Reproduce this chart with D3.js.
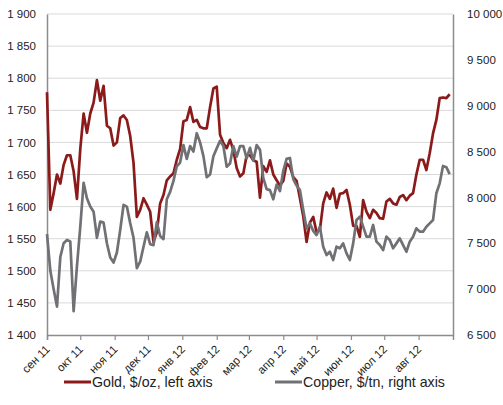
<!DOCTYPE html>
<html><head><meta charset="utf-8">
<script src="https://cdn.jsdelivr.net/npm/d3@7"></script>
<style>
html,body{margin:0;padding:0;background:#fff;}
svg{display:block;font-family:"Liberation Sans",Arial,sans-serif;}
</style></head>
<body><svg id="c" width="503" height="405"></svg>
<script>
// ---- data (one value every 3 days from 1 Sep 2011) ----
const startDate = "2011-09-01";
const stepDays = 3;
const gold = [1778,1595,1621,1650,1636,1665,1680,1680,1655,1612,1690,1745,1715,1745,1762,1797,1765,1788,1726,1722,
  1695,1700,1738,1742,1735,1710,1668,1584,1595,1613,1603,1592,1545,1560,1605,1618,1641,1647,1652,1673,
  1690,1733,1735,1755,1732,1735,1724,1722,1722,1755,1784,1787,1712,1699,1691,1704,1688,1660,1647,1652,
  1680,1680,1672,1670,1614,1663,1654,1672,1650,1641,1633,1640,1667,1662,1646,1640,1613,1585,1545,1575,
  1584,1560,1564,1605,1622,1612,1628,1598,1620,1621,1626,1603,1570,1570,1553,1610,1592,1582,1595,1590,
  1582,1581,1608,1612,1605,1603,1615,1618,1610,1617,1621,1650,1673,1673,1657,1683,1714,1735,1769,1770,
  1769,1775];
const copper = [7600,7200,7000,6810,7350,7500,7536,7520,6760,7250,7680,8160,7990,7900,7845,7560,7736,7725,7500,7345,
  7290,7400,7645,7918,7900,7720,7560,7230,7300,7463,7620,7490,7480,7730,7580,7545,7980,8060,8180,8340,
  8380,8571,8420,8560,8500,8700,8600,8450,8220,8250,8450,8535,8617,8560,8335,8370,8560,8444,8560,8560,
  8426,8540,8400,8570,8520,8210,8090,8080,7980,8140,8070,8290,8420,8430,8200,8130,8080,7863,7660,7717,
  7635,7590,7681,7463,7372,7408,7318,7463,7445,7499,7390,7318,7499,7754,7790,7681,7572,7572,7700,7518,
  7481,7426,7572,7536,7445,7499,7554,7481,7408,7518,7572,7663,7627,7627,7681,7717,7754,8045,8154,8343,
  8330,8255];
const monthLabels = ["сен 11","окт 11","ноя 11","дек 11","янв 12","фев 12","мар 12","апр 12","май 12","июн 12","июл 12","авг 12"];
const goldTicks = [1400,1450,1500,1550,1600,1650,1700,1750,1800,1850,1900];
const copperTicks = [6500,7000,7500,8000,8500,9000,9500,10000];
const seriesNames = ["Gold, $/oz, left axis","Copper, $/tn, right axis"];
const colors = ["#8b1a1a","#717175"];

// ---- chart ----
const svg = d3.select("#c");
const L = 47, R = 453, T = 14, B = 335;
const parse = d3.timeParse("%Y-%m-%d");
const t0 = parse(startDate);
const dates = gold.map((_, i) => d3.timeDay.offset(t0, i * stepDays));
const months = d3.timeMonth.range(t0, d3.timeMonth.offset(t0, 12));
const x = d3.scaleTime().domain([t0, d3.timeMonth.offset(t0, 12)]).range([L, R]);
const yG = d3.scaleLinear().domain([goldTicks[0], goldTicks[goldTicks.length-1]]).range([B, T]);
const yC = d3.scaleLinear().domain([copperTicks[0], copperTicks[copperTicks.length-1]]).range([B, T]);
const loc = d3.formatLocale({decimal: ",", thousands: " ", grouping: [3], currency: ["", ""]});
const fmt = loc.format(",d");

// gridlines
svg.append("g").selectAll("line").data(goldTicks.slice(1)).join("line")
  .attr("x1", L).attr("x2", R).attr("y1", d => yG(d)).attr("y2", d => yG(d))
  .attr("stroke", "#d9d9d9").attr("stroke-width", 1);

// left axis
const gl = svg.append("g").attr("transform", `translate(${L},0)`)
  .call(d3.axisLeft(yG).tickValues(goldTicks).tickSize(0).tickPadding(11).tickFormat(fmt));
gl.select(".domain").attr("stroke", "#8c8c8c").attr("stroke-width", 1.5);
gl.selectAll("text").attr("font-size", 11.5).attr("fill", "#222").attr("font-family", "Liberation Sans, Arial, sans-serif");

// right axis
const gr = svg.append("g").attr("transform", `translate(${R},0)`)
  .call(d3.axisRight(yC).tickValues(copperTicks).tickSize(0).tickPadding(14).tickFormat(fmt));
gr.select(".domain").attr("stroke", "#8c8c8c").attr("stroke-width", 1.5);
gr.selectAll("text").attr("font-size", 11.5).attr("fill", "#222").attr("font-family", "Liberation Sans, Arial, sans-serif");

// bottom axis
const gb = svg.append("g").attr("transform", `translate(0,${B})`)
  .call(d3.axisBottom(x).tickValues(months).tickSize(5).tickFormat((d, i) => monthLabels[i]));
gb.select(".domain").attr("stroke", "#8c8c8c").attr("stroke-width", 1.5);
gb.selectAll(".tick line").attr("stroke", "#8c8c8c").attr("stroke-width", 1.2);
gb.selectAll("text").attr("font-size", 11.5).attr("fill", "#222")
  .attr("font-family", "Liberation Sans, Arial, sans-serif")
  .attr("text-anchor", "end").attr("dy", 0).attr("y", 0)
  .attr("transform", "translate(3,15) rotate(-45)");

// lines
const lineG = d3.line().x((d, i) => x(dates[i])).y(d => yG(d));
const lineC = d3.line().x((d, i) => x(dates[i])).y(d => yC(d));
svg.append("path").datum(gold).attr("d", lineG).attr("fill", "none")
  .attr("stroke", colors[0]).attr("stroke-width", 2.7).attr("stroke-linejoin", "round");
svg.append("path").datum(copper).attr("d", lineC).attr("fill", "none")
  .attr("stroke", colors[1]).attr("stroke-width", 2.7).attr("stroke-linejoin", "round");

// legend
const legX = [64, 275];
const lg = svg.append("g").selectAll("g").data(seriesNames).join("g")
  .attr("transform", (d, i) => `translate(${legX[i]},382)`);
lg.append("line").attr("x1", 0).attr("x2", 27).attr("y1", 0).attr("y2", 0)
  .attr("stroke", (d, i) => colors[i]).attr("stroke-width", 3);
lg.append("text").attr("x", 28).attr("y", 5).attr("font-size", 14.2).attr("fill", "#222")
  .text(d => d);
</script></body></html>
